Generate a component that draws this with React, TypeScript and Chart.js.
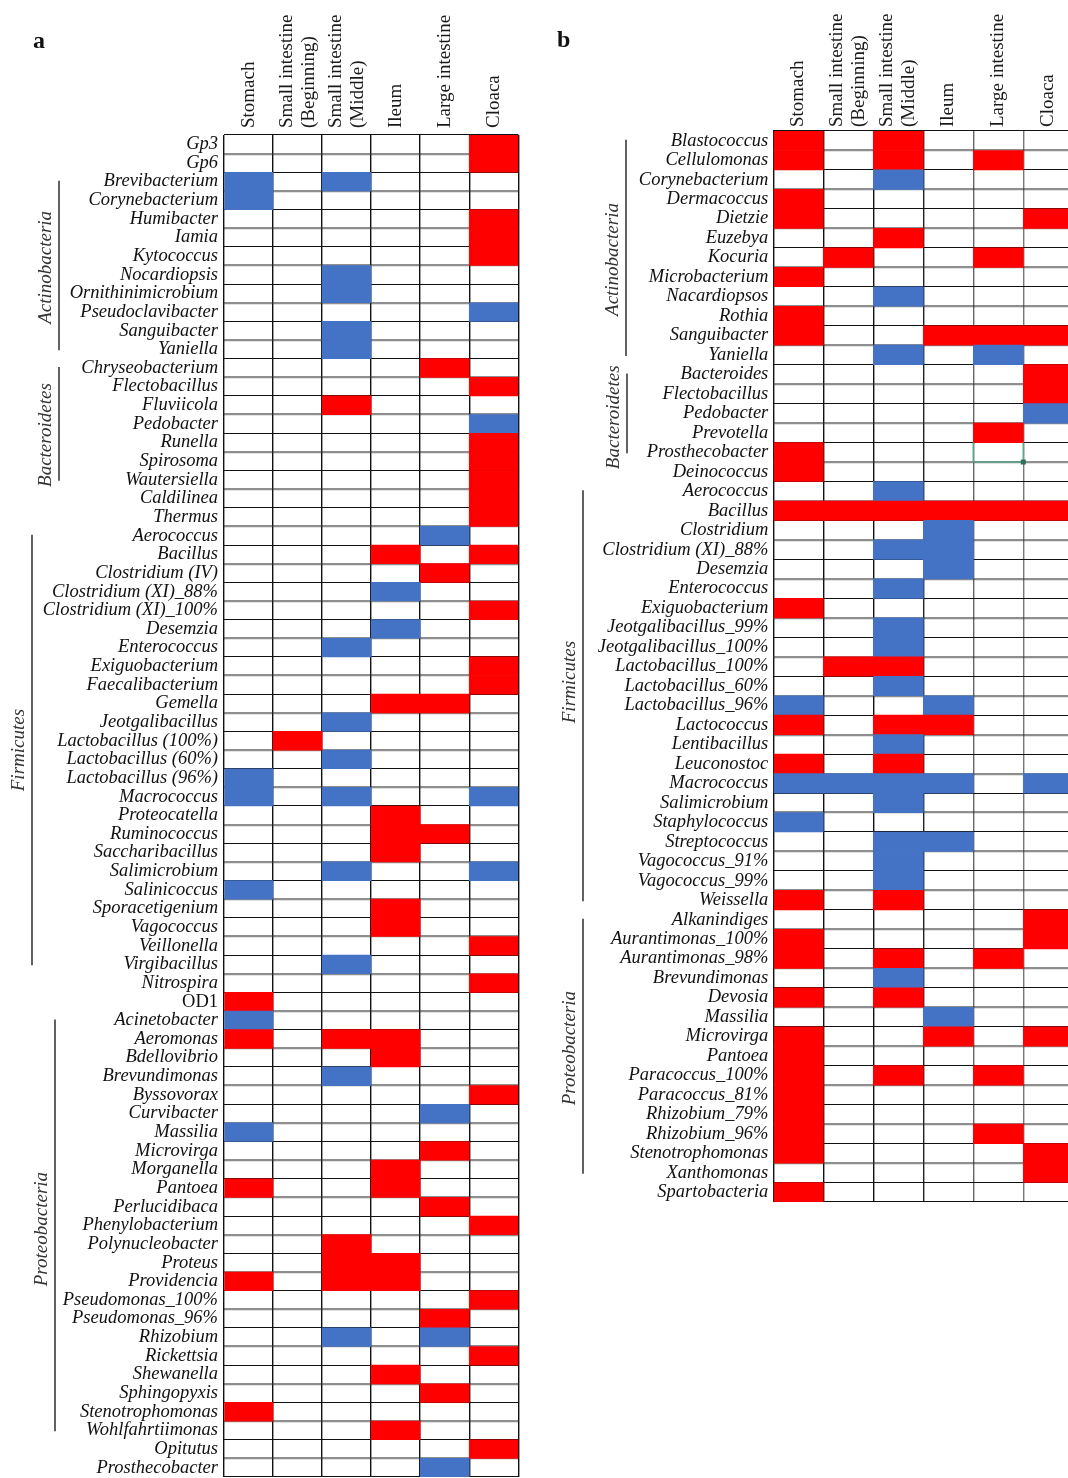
import React, { useEffect, useRef } from "react";
import { Chart, registerables } from "chart.js";

Chart.register(...registerables);

// Gut sections (columns)
const SITES: (string | string[])[] = [
  "Stomach",
  ["Small intestine", "(Beginning)"],
  ["Small intestine", "(Middle)"],
  "Ileum",
  "Large intestine",
  "Cloaca",
];

// Cell codes follow SITES order: R = red, B = blue, . = empty
const TAXA_A = [
  "Gp3", "Gp6", "Brevibacterium", "Corynebacterium", "Humibacter", "Iamia", "Kytococcus",
  "Nocardiopsis", "Ornithinimicrobium", "Pseudoclavibacter", "Sanguibacter", "Yaniella",
  "Chryseobacterium", "Flectobacillus", "Fluviicola", "Pedobacter", "Runella", "Spirosoma",
  "Wautersiella", "Caldilinea", "Thermus", "Aerococcus", "Bacillus", "Clostridium (IV)",
  "Clostridium (XI)_88%", "Clostridium (XI)_100%", "Desemzia", "Enterococcus",
  "Exiguobacterium", "Faecalibacterium", "Gemella", "Jeotgalibacillus", "Lactobacillus (100%)",
  "Lactobacillus (60%)", "Lactobacillus (96%)", "Macrococcus", "Proteocatella", "Ruminococcus",
  "Saccharibacillus", "Salimicrobium", "Salinicoccus", "Sporacetigenium", "Vagococcus",
  "Veillonella", "Virgibacillus", "Nitrospira", "OD1", "Acinetobacter", "Aeromonas",
  "Bdellovibrio", "Brevundimonas", "Byssovorax", "Curvibacter", "Massilia", "Microvirga",
  "Morganella", "Pantoea", "Perlucidibaca", "Phenylobacterium", "Polynucleobacter", "Proteus",
  "Providencia", "Pseudomonas_100%", "Pseudomonas_96%", "Rhizobium", "Rickettsia",
  "Shewanella", "Sphingopyxis", "Stenotrophomonas", "Wohlfahrtiimonas", "Opitutus",
  "Prosthecobacter",
];

const CELLS_A = [
  ".....R", ".....R", "B.B...", "B.....", ".....R", ".....R", ".....R",
  "..B...", "..B...", ".....B", "..B...", "..B...",
  "....R.", ".....R", "..R...", ".....B", ".....R", ".....R",
  ".....R", ".....R", ".....R", "....B.", "...R.R", "....R.",
  "...B..", ".....R", "...B..", "..B...",
  ".....R", ".....R", "...RR.", "..B...", ".R....",
  "..B...", "B.....", "B.B..B", "...R..", "...RR.",
  "...R..", "..B..B", "B.....", "...R..", "...R..",
  ".....R", "..B...", ".....R", "R.....", "B.....", "R.RR..",
  "...R..", "..B...", ".....R", "....B.", "B.....", "....R.",
  "...R..", "R..R..", "....R.", ".....R", "..R...", "..RR..",
  "R.RR..", ".....R", "....R.", "..B.B.", ".....R",
  "...R..", "....R.", "R.....", "...R..", ".....R",
  "....B.",
];

const GROUPS_A = [
  { name: "Actinobacteria", first: 2, last: 11 },
  { name: "Bacteroidetes", first: 12, last: 18 },
  { name: "Firmicutes", first: 21, last: 44 },
  { name: "Proteobacteria", first: 47, last: 69 },
];

const TAXA_B = [
  "Blastococcus", "Cellulomonas", "Corynebacterium", "Dermacoccus", "Dietzie", "Euzebya",
  "Kocuria", "Microbacterium", "Nacardiopsos", "Rothia", "Sanguibacter", "Yaniella",
  "Bacteroides", "Flectobacillus", "Pedobacter", "Prevotella", "Prosthecobacter",
  "Deinococcus", "Aerococcus", "Bacillus", "Clostridium", "Clostridium (XI)_88%", "Desemzia",
  "Enterococcus", "Exiguobacterium", "Jeotgalibacillus_99%", "Jeotgalibacillus_100%",
  "Lactobacillus_100%", "Lactobacillus_60%", "Lactobacillus_96%", "Lactococcus",
  "Lentibacillus", "Leuconostoc", "Macrococcus", "Salimicrobium", "Staphylococcus",
  "Streptococcus", "Vagococcus_91%", "Vagococcus_99%", "Weissella", "Alkanindiges",
  "Aurantimonas_100%", "Aurantimonas_98%", "Brevundimonas", "Devosia", "Massilia",
  "Microvirga", "Pantoea", "Paracoccus_100%", "Paracoccus_81%", "Rhizobium_79%",
  "Rhizobium_96%", "Stenotrophomonas", "Xanthomonas", "Spartobacteria",
];

const CELLS_B = [
  "R.R...", "R.R.R.", "..B...", "R.....", "R....R", "..R...",
  ".R..R.", "R.....", "..B...", "R.....", "R..RRR", "..B.B.",
  ".....R", ".....R", ".....B", "....R.", "R.....",
  "R.....", "..B...", "RRRRRR", "...B..", "..BB..", "...B..",
  "..B...", "R.....", "..B...", "..B...",
  ".RR...", "..B...", "B..B..", "R.RR..",
  "..B...", "R.R...", "BBBB.B", "..B...", "B.....",
  "..BB..", "..B...", "..B...", "R.R...", ".....R",
  "R....R", "R.R.R.", "..B...", "R.R...", "...B..",
  "R..R.R", "R.....", "R.R.R.", "R.....", "R.....",
  "R...R.", "R....R", ".....R", "R.....",
];

const GROUPS_B = [
  { name: "Actinobacteria", first: 0, last: 11 },
  { name: "Bacteroidetes", first: 12, last: 16 },
  { name: "Firmicutes", first: 18, last: 39 },
  { name: "Proteobacteria", first: 40, last: 53 },
];

// Labels printed upright rather than in italics
const UPRIGHT = new Set(["OD1"]);

const RED = "#FF0000";
const BLUE = "#4472C4";
const SERIF = "'Liberation Serif', 'Times New Roman', serif";

type Group = { name: string; first: number; last: number };
type PanelSpec = {
  letter: string;
  letterX: number;
  letterY: number;
  taxa: string[];
  cells: string[];
  groups: Group[];
  groupLineX: number[];
  groupTextRow: number[];
  selected?: { row: number; col: number };
  left: number;
  width: number;
  height: number;
  gridLeft: number;
  gridTop: number;
  gridRight: number;
  gridBottom: number;
  labelPad: number;
  headerGap: number;
  vLineColors: string[];
};

const PANEL_A: PanelSpec = {
  letter: "a",
  letterX: 33,
  letterY: 48,
  taxa: TAXA_A,
  cells: CELLS_A,
  groups: GROUPS_A,
  groupLineX: [59, 59, 32, 55],
  groupTextRow: [6.6, 15.6, 32.5, 58.2],
  left: 0,
  width: 530,
  height: 1478,
  gridLeft: 224,
  gridTop: 135,
  gridRight: 518.3,
  gridBottom: 1477,
  labelPad: 6,
  headerGap: 7,
  vLineColors: ["#111", "#111", "#111", "#111", "#111", "#111", "#111"],
};

const PANEL_B: PanelSpec = {
  letter: "b",
  letterX: 557,
  letterY: 47,
  taxa: TAXA_B,
  cells: CELLS_B,
  groups: GROUPS_B,
  groupLineX: [626, 627, 583, 583],
  groupTextRow: [6.1, 14.2, 27.8, 46.6],
  selected: { row: 16, col: 4 },
  left: 555,
  width: 530,
  height: 1478,
  gridLeft: 773.3,
  gridTop: 131,
  gridRight: 1073.3,
  gridBottom: 1202,
  labelPad: 5,
  headerGap: 4,
  vLineColors: ["#111", "#111", "#111", "#222", "#666", "#777", "#777"],
};

function parseRow(code: string): number[] {
  return code.split("").map((ch) => (ch === "R" ? 1 : ch === "B" ? 2 : 0));
}

function overlayPlugin(p: PanelSpec) {
  return {
    id: "panelOverlay",
    afterDraw(chart: any) {
      const { ctx, chartArea } = chart;
      const xs = chart.scales.x;
      const ys = chart.scales.y;
      ctx.save();

      // Column headers, rotated
      ctx.fillStyle = "#1a1a1a";
      ctx.font = `19px ${SERIF}`;
      ctx.textAlign = "left";
      ctx.textBaseline = "middle";
      SITES.forEach((site, c) => {
        const lines = Array.isArray(site) ? site : [site];
        const x = xs.getPixelForValue(c + 0.5);
        ctx.save();
        ctx.translate(x, chartArea.top - p.headerGap);
        ctx.rotate(-Math.PI / 2);
        lines.forEach((ln, i) => ctx.fillText(ln, 0, (i - (lines.length - 1) / 2) * 22));
        ctx.restore();
      });

      // Phylum brackets
      const inset = 0.45;
      p.groups.forEach((g, k) => {
        const x = p.groupLineX[k] - p.left;
        const y0 = ys.getPixelForValue(g.first - 0.5 + inset);
        const y1 = ys.getPixelForValue(g.last + 0.5 - inset);
        ctx.strokeStyle = "#3a3a3a";
        ctx.lineWidth = 1.6;
        ctx.beginPath();
        ctx.moveTo(x, y0);
        ctx.lineTo(x, y1);
        ctx.stroke();

        const ty = ys.getPixelForValue(p.groupTextRow[k]);
        ctx.save();
        ctx.translate(x - 13, ty);
        ctx.rotate(-Math.PI / 2);
        ctx.fillStyle = "#333";
        ctx.font = `italic 19px ${SERIF}`;
        ctx.textAlign = "center";
        ctx.textBaseline = "middle";
        ctx.fillText(g.name, 0, 0);
        ctx.restore();
      });

      // Panel letter
      ctx.fillStyle = "#111";
      ctx.font = `bold 24px ${SERIF}`;
      ctx.textAlign = "left";
      ctx.textBaseline = "alphabetic";
      ctx.fillText(p.letter, p.letterX - p.left, p.letterY);

      // Active-cell outline
      if (p.selected) {
        const { row, col } = p.selected;
        const xl = xs.getPixelForValue(col);
        const xr = xs.getPixelForValue(col + 1);
        const yt = ys.getPixelForValue(row - 0.5);
        const yb = ys.getPixelForValue(row + 0.5);
        ctx.strokeStyle = "#5aa68a";
        ctx.lineWidth = 1.5;
        ctx.beginPath();
        ctx.moveTo(xl, yt);
        ctx.lineTo(xl, yb);
        ctx.lineTo(xr, yb);
        ctx.lineTo(xr, yt);
        ctx.stroke();
        ctx.fillStyle = "#2f6f57";
        ctx.fillRect(xr - 2.5, yb - 2.5, 5, 5);
      }
      ctx.restore();
    },
  };
}

function buildConfig(p: PanelSpec): any {
  const rows = p.cells.map(parseRow);
  const datasets = SITES.map((site, c) => ({
    label: Array.isArray(site) ? site.join(" ") : site,
    data: rows.map((r) => (r[c] ? [c, c + 1] : null)),
    backgroundColor: rows.map((r) => (r[c] === 2 ? BLUE : RED)),
    borderWidth: 0,
    borderSkipped: false,
    grouped: false,
    barPercentage: 1,
    categoryPercentage: 1,
  }));

  return {
    type: "bar",
    data: { labels: p.taxa, datasets },
    plugins: [overlayPlugin(p)],
    options: {
      indexAxis: "y",
      animation: false,
      responsive: false,
      maintainAspectRatio: false,
      events: [],
      layout: {
        padding: {
          left: 0,
          top: p.gridTop,
          right: p.width - (p.gridRight - p.left),
          bottom: p.height - p.gridBottom,
        },
      },
      plugins: { legend: { display: false }, tooltip: { enabled: false } },
      scales: {
        x: {
          type: "linear",
          min: 0,
          max: 6,
          z: 1,
          ticks: { display: false, stepSize: 1 },
          grid: {
            drawTicks: false,
            color: (ctx: any) => p.vLineColors[ctx.index] ?? "#111",
            lineWidth: 1.4,
          },
          border: { display: false },
          afterFit: (s: any) => {
            s.height = 0;
            s.paddingLeft = 0;
            s.paddingRight = 0;
          },
        },
        y: {
          type: "category",
          offset: true,
          z: 1,
          grid: {
            offset: true,
            drawTicks: false,
            color: (ctx: any) => (ctx.index % 2 === 1 ? "rgba(50,50,50,0.55)" : "#111"),
            lineWidth: (ctx: any) => (ctx.index % 2 === 1 ? 2.2 : 1.1),
          },
          border: { display: false },
          ticks: {
            autoSkip: false,
            padding: p.labelPad,
            color: "#111",
            font: (ctx: any) => ({
              family: SERIF,
              size: 18.5,
              style: UPRIGHT.has(p.taxa[ctx.index]) ? "normal" : "italic",
            }),
          },
          afterFit: (s: any) => {
            s.width = p.gridLeft - p.left;
            s.paddingTop = 0;
            s.paddingBottom = 0;
          },
        },
      },
    },
  };
}

function HeatPanel({ spec }: { spec: PanelSpec }) {
  const ref = useRef<HTMLCanvasElement>(null);
  useEffect(() => {
    if (!ref.current) return;
    const chart = new Chart(ref.current, buildConfig(spec));
    return () => chart.destroy();
  }, [spec]);
  return (
    <canvas
      ref={ref}
      width={spec.width}
      height={spec.height}
      style={{ position: "absolute", left: spec.left, top: 0, width: spec.width, height: spec.height }}
    />
  );
}

export default function App() {
  return (
    <div
      style={{
        position: "absolute",
        left: 0,
        top: 0,
        width: 1068,
        height: 1478,
        overflow: "hidden",
        background: "#fff",
      }}
    >
      <HeatPanel spec={PANEL_A} />
      <HeatPanel spec={PANEL_B} />
    </div>
  );
}
